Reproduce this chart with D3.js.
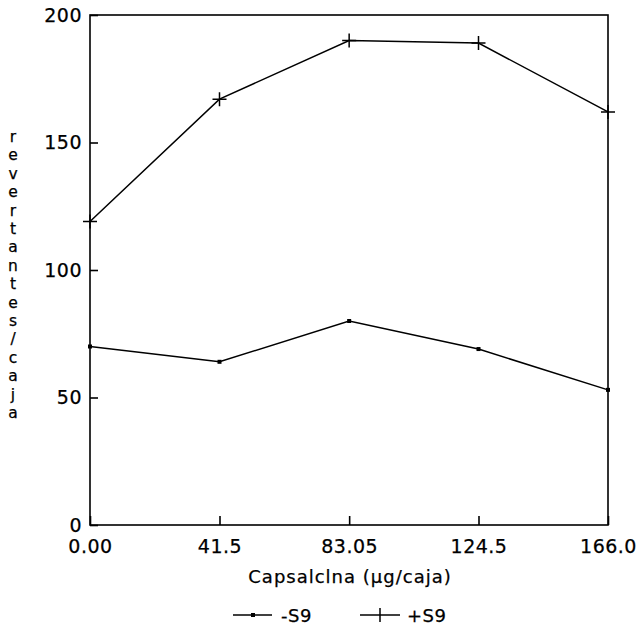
<!DOCTYPE html>
<html>
<head>
<meta charset="utf-8">
<script src="https://cdn.jsdelivr.net/npm/d3@7"></script>
<style>
  body { margin: 0; background: #fff; }
  text { font-family: "DejaVu Sans", sans-serif; fill: #000; stroke: #000; stroke-width: 0.25px; }
</style>
</head>
<body>
<svg width="637" height="628"></svg>
<script>
var doses = [0, 41.5, 83.05, 124.5, 166.0];
var doseLabels = ["0.00", "41.5", "83.05", "124.5", "166.0"];
var yTicks = [0, 50, 100, 150, 200];
var minusS9 = [70, 64, 80, 69, 53];
var plusS9 = [119, 167, 190, 189, 162];
var yTitle = "revertantes/caja";
var xTitle = "Capsalclna (µg/caja)";

var svg = d3.select("svg"),
    margin = {top: 15, right: 29, bottom: 103, left: 90},
    width = +svg.attr("width") - margin.left - margin.right,
    height = +svg.attr("height") - margin.top - margin.bottom;

var g = svg.append("g").attr("transform", "translate(" + margin.left + "," + margin.top + ")");

var x = d3.scaleLinear().domain([0, 166]).range([0, width]);
var y = d3.scaleLinear().domain([0, 200]).range([height, 0]);

// frame
g.append("rect")
    .attr("width", width).attr("height", height)
    .attr("fill", "none").attr("stroke", "#000").attr("stroke-width", 1.6);

// y axis, ticks point inward
var yAxis = g.append("g")
    .call(d3.axisLeft(y).tickValues(yTicks).tickSize(-8).tickPadding(8).tickFormat(d3.format("d")));
yAxis.select(".domain").remove();
yAxis.selectAll("line").attr("stroke-width", 1.6);
yAxis.selectAll("text").attr("font-family", null).style("font-size", "19px").style("letter-spacing", "0.5px");

// x axis
var xAxis = g.append("g")
    .attr("transform", "translate(0," + height + ")")
    .call(d3.axisBottom(x).tickValues(doses).tickSize(-9).tickPadding(15)
        .tickFormat(function(d, i) { return doseLabels[i]; }));
xAxis.select(".domain").remove();
xAxis.selectAll("line").attr("stroke-width", 1.6);
xAxis.selectAll("text").attr("font-family", null).style("font-size", "19px").style("letter-spacing", "0.5px");

// x title
svg.append("text")
    .attr("x", 350).attr("y", 583)
    .attr("text-anchor", "middle")
    .style("font-size", "18px").style("letter-spacing", "1px")
    .text(xTitle);

// y title, stacked letters
svg.append("g").selectAll("text")
    .data(yTitle.split(""))
    .enter().append("text")
    .attr("x", 13)
    .attr("y", function(d, i) { return 142 + i * 18.4; })
    .attr("text-anchor", "middle")
    .style("font-size", "15.5px")
    .text(function(d) { return d; });

var line = d3.line()
    .x(function(d, i) { return x(doses[i]); })
    .y(function(d) { return y(d); });

// -S9
g.append("path").datum(minusS9)
    .attr("d", line).attr("fill", "none").attr("stroke", "#000").attr("stroke-width", 1.5);
g.selectAll("rect.sq").data(minusS9).enter().append("rect")
    .attr("class", "sq")
    .attr("x", function(d, i) { return x(doses[i]) - 2; })
    .attr("y", function(d) { return y(d) - 2; })
    .attr("width", 4).attr("height", 4).attr("fill", "#000");

// +S9
g.append("path").datum(plusS9)
    .attr("d", line).attr("fill", "none").attr("stroke", "#000").attr("stroke-width", 1.5);
g.selectAll("path.plus").data(plusS9).enter().append("path")
    .attr("class", "plus")
    .attr("d", function(d, i) {
        var cx = x(doses[i]), cy = y(d);
        return "M" + (cx - 7) + "," + cy + "H" + (cx + 7) + "M" + cx + "," + (cy - 7) + "V" + (cy + 7);
    })
    .attr("stroke", "#000").attr("stroke-width", 1.5);

// legend
var leg = svg.append("g");
leg.append("line").attr("x1", 233).attr("x2", 272).attr("y1", 615).attr("y2", 615)
    .attr("stroke", "#000").attr("stroke-width", 1.5);
leg.append("rect").attr("x", 251).attr("y", 613).attr("width", 4).attr("height", 4);
leg.append("text").attr("x", 281).attr("y", 622).style("font-size", "18px").style("letter-spacing", "0.5px").text("-S9");
leg.append("line").attr("x1", 360).attr("x2", 400).attr("y1", 615).attr("y2", 615)
    .attr("stroke", "#000").attr("stroke-width", 1.5);
leg.append("path").attr("d", "M380,608V622").attr("stroke", "#000").attr("stroke-width", 1.5);
leg.append("text").attr("x", 407).attr("y", 622).style("font-size", "18px").style("letter-spacing", "0.5px").text("+S9");
</script>
</body>
</html>
